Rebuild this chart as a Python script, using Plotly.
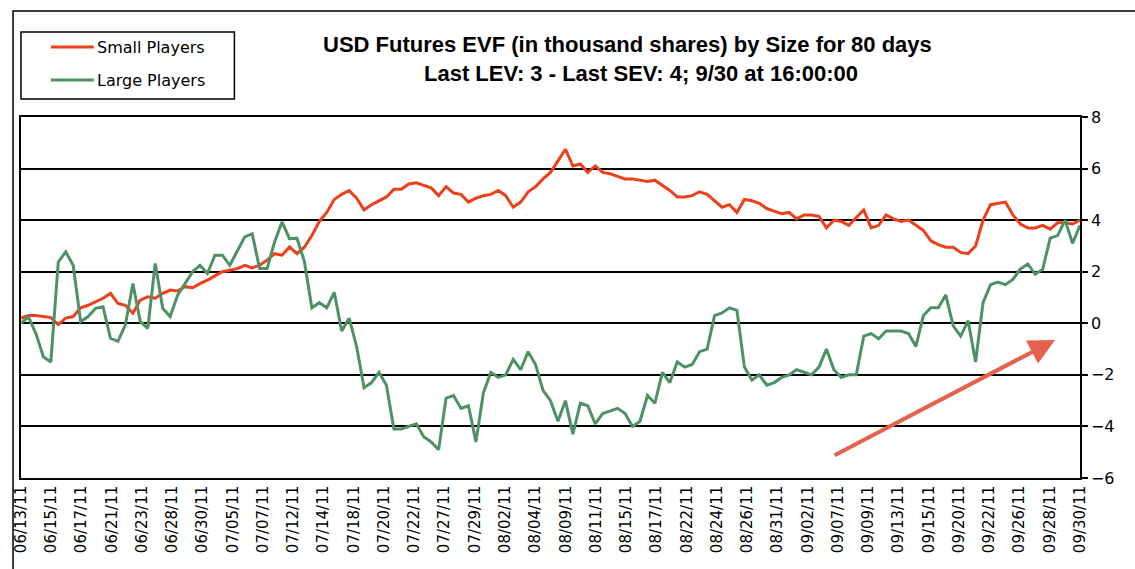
import numpy as np
import plotly.graph_objects as go

date_labels = ["06/13/11", "06/15/11", "06/17/11", "06/21/11", "06/23/11", "06/28/11",
               "06/30/11", "07/05/11", "07/07/11", "07/12/11", "07/14/11", "07/18/11",
               "07/20/11", "07/22/11", "07/27/11", "07/29/11", "08/02/11", "08/04/11",
               "08/09/11", "08/11/11", "08/15/11", "08/17/11", "08/22/11", "08/24/11",
               "08/26/11", "08/31/11", "09/02/11", "09/07/11", "09/09/11", "09/13/11",
               "09/15/11", "09/20/11", "09/22/11", "09/26/11", "09/28/11", "09/30/11"]

small_players = [0.2, 0.3, 0.3, 0.26, 0.22, -0.05, 0.2, 0.26, 0.6, 0.7, 0.84, 0.97, 1.16, 0.77, 0.7,
                 0.39, 0.9, 1.03, 0.97, 1.16, 1.29, 1.25, 1.42, 1.38, 1.54, 1.67, 1.84, 2.0, 2.06,
                 2.12, 2.25, 2.15, 2.25, 2.45, 2.7, 2.64, 2.96,
                 2.7, 2.95, 3.4, 3.95, 4.3, 4.8, 5.0, 5.15, 4.85, 4.4, 4.6, 4.75, 4.9, 5.2, 5.2,
                 5.4, 5.45, 5.35, 5.25, 4.95, 5.3, 5.05, 5.0, 4.7, 4.85, 4.95, 5.0, 5.15, 4.95,
                 4.5, 4.7, 5.1, 5.3, 5.6, 5.85, 6.3,
                 6.75, 6.1, 6.18, 5.85, 6.1, 5.85, 5.8, 5.7, 5.6, 5.6, 5.55, 5.5, 5.55, 5.35,
                 5.15, 4.9, 4.9, 4.95, 5.1, 5.0, 4.75, 4.5, 4.6, 4.3, 4.8, 4.75, 4.65, 4.45,
                 4.35, 4.25, 4.3, 4.05, 4.2, 4.2, 4.15, 3.7,
                 4.0, 3.95, 3.8, 4.1, 4.4, 3.7, 3.8, 4.2, 4.05, 3.95, 4.0, 3.8, 3.6, 3.2, 3.05,
                 2.95, 2.95, 2.75, 2.7, 3.0, 4.0, 4.6, 4.65, 4.7, 4.2, 3.85, 3.7, 3.7, 3.8, 3.65,
                 3.9, 3.9, 3.85, 4.0]

large_players = [0.0, 0.25, -0.4, -1.3, -1.5, 2.38, 2.77, 2.25, 0.06, 0.26, 0.58, 0.64, -0.58,
                 -0.7, -0.06, 1.54, 0.06, -0.2, 2.32, 0.58, 0.26, 1.09, 1.54, 2.0, 2.25, 1.93,
                 2.64, 2.64, 2.25, 2.77, 3.35, 3.47, 2.12, 2.12, 3.15, 3.93, 3.28,
                 3.3, 2.4, 0.6, 0.8, 0.6, 1.2, -0.3, 0.2, -0.9, -2.5, -2.3, -1.9, -2.4, -4.1,
                 -4.1, -4.0, -3.9, -4.4, -4.6, -4.9, -2.9, -2.8, -3.3, -3.2, -4.6, -2.7, -1.9,
                 -2.1, -2.0, -1.4, -1.8, -1.1, -1.6, -2.6, -3.0, -3.8,
                 -3.0, -4.3, -3.1, -3.2, -3.9, -3.5, -3.4, -3.3, -3.5, -4.0, -3.8, -2.8, -3.1,
                 -1.9, -2.3, -1.5, -1.7, -1.6, -1.1, -1.0, 0.3, 0.4, 0.6, 0.5, -1.7, -2.2, -2.0,
                 -2.4, -2.3, -2.1, -2.0, -1.8, -1.9, -2.0, -1.7, -1.0,
                 -1.8, -2.1, -2.0, -2.0, -0.5, -0.4, -0.6, -0.3, -0.3, -0.3, -0.4, -0.9, 0.3,
                 0.6, 0.6, 1.1, -0.1, -0.5, 0.1, -1.5, 0.8, 1.5, 1.6, 1.5, 1.7, 2.1, 2.3, 1.9,
                 2.1, 3.3, 3.4, 4.0, 3.1, 3.8]

y_ticks = [-6, -4, -2, 0, 2, 4, 6, 8]
series_names = ["Small Players", "Large Players"]

RED = "#EC3F1A"
GREEN = "#4E9166"

x_small = np.linspace(0, len(date_labels) - 1, len(small_players))
x_large = np.linspace(0, len(date_labels) - 1, len(large_players))

fig = go.Figure()
fig.add_trace(go.Scatter(x=x_small, y=small_players, mode="lines", name=series_names[0],
                         line=dict(color=RED, width=3)))
fig.add_trace(go.Scatter(x=x_large, y=large_players, mode="lines", name=series_names[1],
                         line=dict(color=GREEN, width=3)))

W, H = 1135, 569
L, R, T, B = 18, 1080, 117, 478


def px(xp):
    return (xp - L) / (R - L)


def py(yp):
    return (B - yp) / (B - T)


fig.update_layout(
    width=W, height=H,
    margin=dict(l=L, r=W - R, t=T, b=H - B),
    paper_bgcolor="white", plot_bgcolor="white",
    font=dict(family="DejaVu Sans", color="black"),
    showlegend=False,
    xaxis=dict(range=[0, len(date_labels) - 1], tickmode="array",
               tickvals=list(range(len(date_labels))), ticktext=date_labels,
               tickangle=-90, showgrid=False, zeroline=False, showline=True,
               linecolor="black", linewidth=1.5, mirror=True, ticks="",
               tickfont=dict(family="DejaVu Sans", size=15, color="black")),
    yaxis=dict(range=[-6, 8], tickmode="array", tickvals=y_ticks, side="right",
               showgrid=True, gridcolor="black", gridwidth=1.5, zeroline=False,
               showline=True, linecolor="black", linewidth=1.5, mirror=True,
               ticks="outside", ticklen=6, tickcolor="black", tickwidth=1.5,
               tickfont=dict(family="DejaVu Sans", size=16, color="black")),
)

# outer frame
fig.add_shape(type="rect", xref="paper", yref="paper",
              x0=px(10), x1=px(1145), y0=py(580), y1=py(11),
              line=dict(color="black", width=1.5), fillcolor="rgba(0,0,0,0)", layer="below")

# legend box (drawn manually)
fig.add_shape(type="rect", xref="paper", yref="paper",
              x0=px(18), x1=px(232), y0=py(99), y1=py(32),
              line=dict(color="black", width=1.5), fillcolor="white")
for name, color, yy in [(series_names[0], RED, 47), (series_names[1], GREEN, 80)]:
    fig.add_shape(type="line", xref="paper", yref="paper",
                  x0=px(48), x1=px(91), y0=py(yy), y1=py(yy),
                  line=dict(color=color, width=3))
    fig.add_annotation(xref="paper", yref="paper", x=px(92), y=py(yy), showarrow=False,
                       xanchor="left", yanchor="middle", text=name,
                       font=dict(family="DejaVu Sans", size=16, color="black"))

# title
fig.add_annotation(xref="paper", yref="paper", x=px(626), y=py(45), showarrow=False,
                   xanchor="center", yanchor="middle",
                   text="<b>USD Futures EVF (in thousand shares) by Size for 80 days</b>",
                   font=dict(family="Liberation Sans", size=22, color="black"))
fig.add_annotation(xref="paper", yref="paper", x=px(640), y=py(73), showarrow=False,
                   xanchor="center", yanchor="middle",
                   text="<b>Last LEV: 3 - Last SEV: 4; 9/30 at 16:00:00</b>",
                   font=dict(family="Liberation Sans", size=22, color="black"))

# arrow
fig.add_annotation(xref="paper", yref="paper", x=px(1055), y=py(340), ax=833 - 1055, ay=456 - 340,
                   showarrow=True, text="", arrowhead=2, arrowsize=1.3, arrowwidth=4,
                   arrowcolor="#E8604E", standoff=0)

fig.write_html("out.html", config={"displayModeBar": False},
               post_script="document.body.style.margin='0';")
